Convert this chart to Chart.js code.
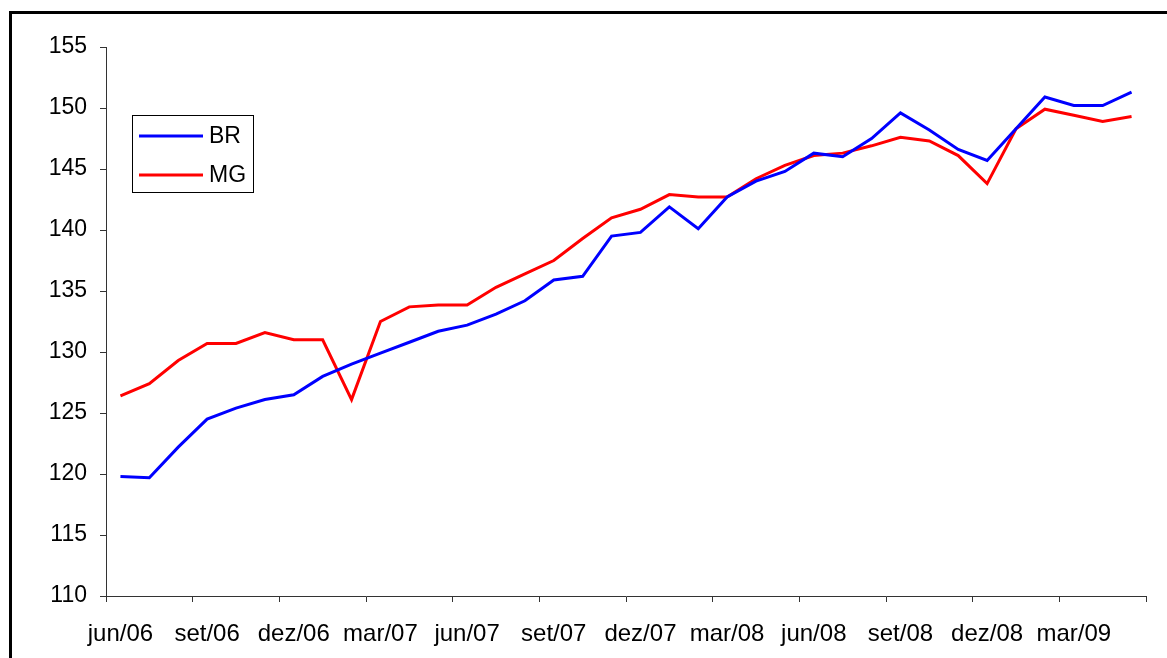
<!DOCTYPE html>
<html>
<head>
<meta charset="utf-8">
<script src="https://cdn.jsdelivr.net/npm/chart.js@4/dist/chart.umd.min.js"></script>
<style>
  html, body { margin: 0; padding: 0; background: #fff; overflow: hidden; }
  canvas { display: block; }
</style>
</head>
<body>
<canvas id="c" width="1167" height="658"></canvas>
<script>
const categories = [
  'jun/06','jul/06','ago/06','set/06','out/06','nov/06','dez/06','jan/07','fev/07','mar/07','abr/07','mai/07',
  'jun/07','jul/07','ago/07','set/07','out/07','nov/07','dez/07','jan/08','fev/08','mar/08','abr/08','mai/08',
  'jun/08','jul/08','ago/08','set/08','out/08','nov/08','dez/08','jan/09','fev/09','mar/09','abr/09','mai/09'
];
const brValues = [119.8, 119.7, 122.2, 124.5, 125.4, 126.1, 126.5, 128.0, 129.0, 129.9, 130.8, 131.7,
                  132.2, 133.1, 134.2, 135.9, 136.2, 139.5, 139.8, 141.9, 140.1, 142.7, 144.0, 144.8,
                  146.3, 146.0, 147.5, 149.6, 148.2, 146.6, 145.7, 148.3, 150.9, 150.2, 150.2, 151.3];
const mgValues = [126.4, 127.4, 129.3, 130.7, 130.7, 131.6, 131.0, 131.0, 126.1, 132.5, 133.7, 133.85,
                  133.85, 135.3, 136.4, 137.5, 139.3, 141.0, 141.7, 142.9, 142.7, 142.7, 144.2, 145.3,
                  146.1, 146.3, 146.9, 147.6, 147.3, 146.1, 143.8, 148.3, 149.9, 149.4, 148.9, 149.3];
const seriesNames = ['BR', 'MG'];
const yMin = 110, yMax = 155, yStep = 5;

const FONT = "'Liberation Sans', Arial, sans-serif";

const framePlugin = {
  id: 'frame',
  beforeDraw(chart) {
    const ctx = chart.ctx;
    ctx.save();
    ctx.fillStyle = '#fff';
    ctx.fillRect(0, 0, chart.width, chart.height);
    ctx.strokeStyle = '#000';
    ctx.lineWidth = 3;
    ctx.strokeRect(10.5, 12.5, 1300, 800);
    ctx.restore();
  }
};

const legendPlugin = {
  id: 'boxLegend',
  afterDraw(chart) {
    const ctx = chart.ctx;
    const x = 132, y = 115, w = 121, h = 77;
    ctx.save();
    ctx.fillStyle = '#fff';
    ctx.fillRect(x, y, w, h);
    ctx.strokeStyle = '#000';
    ctx.lineWidth = 1;
    ctx.strokeRect(x + 0.5, y + 0.5, w, h);
    ctx.font = '23px ' + FONT;
    ctx.textBaseline = 'middle';
    ctx.textAlign = 'left';
    chart.data.datasets.forEach((ds, i) => {
      const ly = 136 + i * 39;
      ctx.strokeStyle = ds.borderColor;
      ctx.lineWidth = 3;
      ctx.beginPath();
      ctx.moveTo(139, ly);
      ctx.lineTo(203, ly);
      ctx.stroke();
      ctx.fillStyle = '#000';
      ctx.fillText(ds.label, 209, ly + 1);
    });
    ctx.restore();
  }
};

new Chart(document.getElementById('c'), {
  type: 'line',
  data: {
    labels: categories,
    datasets: [
      { label: seriesNames[0], data: brValues, borderColor: '#0000FF', borderWidth: 3, pointRadius: 0, tension: 0, fill: false },
      { label: seriesNames[1], data: mgValues, borderColor: '#FF0000', borderWidth: 3, pointRadius: 0, tension: 0, fill: false }
    ]
  },
  options: {
    responsive: false,
    animation: false,
    devicePixelRatio: 1,
    layout: { padding: { top: 47, right: 21, bottom: 0, left: 0 } },
    plugins: { legend: { display: false }, tooltip: { enabled: false } },
    scales: {
      x: {
        type: 'category',
        offset: true,
        grid: {
          offset: true,
          drawOnChartArea: false,
          drawTicks: true,
          tickLength: 6,
          lineWidth: 1,
          color: (c) => (c.index === undefined || c.index % 3 === 0) ? '#333' : 'rgba(0,0,0,0)'
        },
        border: { display: true, color: '#333', width: 1 },
        ticks: {
          autoSkip: false,
          maxRotation: 0,
          minRotation: 0,
          padding: 18,
          color: '#000',
          font: { family: FONT, size: 24 },
          callback: (v, i) => (i % 3 === 0 ? categories[i] : '')
        },
        afterFit: (s) => { s.height = 62; }
      },
      y: {
        min: yMin,
        max: yMax,
        grid: { drawOnChartArea: false, drawTicks: true, tickLength: 6, color: '#333' },
        border: { display: true, color: '#333', width: 1 },
        ticks: {
          stepSize: yStep,
          padding: 13,
          color: '#000',
          font: { family: FONT, size: 23 }
        },
        afterFit: (s) => { s.width = 106; }
      }
    }
  },
  plugins: [framePlugin, legendPlugin]
});
</script>
</body>
</html>
